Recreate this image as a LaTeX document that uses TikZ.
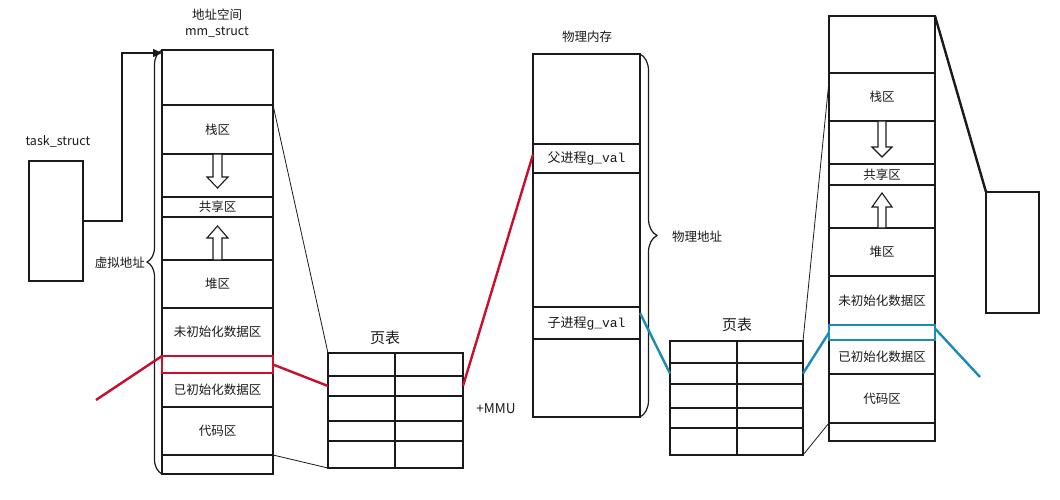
\documentclass[tikz,border=0pt]{standalone}
\usepackage{fontspec}
\setmainfont{Noto Sans CJK SC}
\newfontfamily\gmono{Liberation Mono}
\usetikzlibrary{decorations.pathreplacing,arrows.meta}
\definecolor{myred}{HTML}{C8102E}
\definecolor{myblue}{HTML}{1A8CB4}
\definecolor{ink}{HTML}{1A1A1A}
\begin{document}
\begin{tikzpicture}[x=1pt,y=-1pt,
  cell/.style={draw=ink,line width=1.2pt,inner sep=0pt,outer sep=0pt,text=ink,font=\fontsize{12.5pt}{14pt}\selectfont},
  lbl/.style={inner sep=0pt,text=ink,font=\fontsize{12.5pt}{14pt}\selectfont},
  big/.style={inner sep=0pt,text=ink,font=\fontsize{15pt}{17pt}\selectfont},
  thin/.style={draw=ink,line width=0.8pt},
  hollow/.style={draw=ink,line width=1.1pt,fill=white,line join=miter},
  redl/.style={draw=myred,line width=2.4pt},
  bluel/.style={draw=myblue,line width=2.4pt}]
\useasboundingbox (0,0) rectangle (1060,500);
\fill[white] (0,0) rectangle (1060,500);

% task_struct
\node[lbl] (tslbl) at (58,141) {task\_struct};
\node[cell,minimum width=54,minimum height=120] (ts) at (56,221) {};

% left column (virtual address space)
\node[lbl] (lt1) at (217,15) {地址空间};
\node[lbl] (lt2) at (217,32) {mm\_struct};
\node[cell,minimum width=111,minimum height=55] (l1) at (217.5,77.5) {};
\node[cell,minimum width=111,minimum height=49] (lstack) at (217.5,129.5) {栈区};
\node[cell,minimum width=111,minimum height=43] (lg1) at (217.5,175.5) {};
\node[cell,minimum width=111,minimum height=20] (lshare) at (217.5,207) {共享区};
\node[cell,minimum width=111,minimum height=43] (lg2) at (217.5,238.5) {};
\node[cell,minimum width=111,minimum height=48] (lheap) at (217.5,284) {堆区};
\node[cell,minimum width=111,minimum height=48] (lbss) at (217.5,332) {未初始化数据区};
\node[cell,minimum width=111,minimum height=17] (lred) at (217.5,364.5) {};
\node[cell,minimum width=111,minimum height=34] (ldata) at (217.5,390) {已初始化数据区};
\node[cell,minimum width=111,minimum height=48] (lcode) at (217.5,431) {代码区};
\node[cell,minimum width=111,minimum height=19] (llast) at (217.5,464.5) {};

% hollow arrows, left column
\draw[hollow] ([xshift=-4.5pt]lg1.north) -- ++(0,23) -- ++(-6,0) -- ++(10.5,11) -- ++(10.5,-11) -- ++(-6,0) -- ++(0,-23) -- cycle;
\draw[hollow] ([xshift=-4.5pt]lg2.south) -- ++(0,-22) -- ++(-6,0) -- ++(10.5,-12) -- ++(10.5,12) -- ++(-6,0) -- ++(0,22) -- cycle;

% brace left
\draw[draw=ink,line width=1.2pt,decorate,decoration={brace,amplitude=15pt}] (llast.south west) -- (l1.north west);
\node[lbl,anchor=east] (vlbl) at (145,263) {虚拟地址};

% task_struct -> mm_struct arrow
\draw[draw=ink,line width=1.2pt,-{Triangle[length=9pt,width=8pt]}] (ts.east) -- ++(39,0) |- ([yshift=-3pt]l1.north west);

% left page table
\node[big] (ptl) at (385,338) {页表};
\foreach \i/\t/\b in {1/353/376,2/376/396,3/396/421,4/421/441,5/441/468}{
  \node[cell,minimum width=67,minimum height={\b-\t}] (pla\i) at (361.5,{(\t+\b)/2}) {};
  \node[cell,minimum width=68,minimum height={\b-\t}] (plb\i) at (429,{(\t+\b)/2}) {};
}
\draw[draw=ink,line width=2pt] (pla1.north east) -- (pla5.south east);
\node[lbl,font=\fontsize{13.5pt}{16pt}\selectfont] (mmu) at (496,409) {+MMU};

% physical memory
\node[lbl] (pt) at (587,37) {物理内存};
\node[cell,minimum width=107,minimum height=90] (p1) at (586.5,99) {};
\node[cell,minimum width=107,minimum height=29,font=\fontsize{13pt}{15pt}\selectfont] (pparent) at (586.5,158.5) {父进程{\gmono g\_val}};
\node[cell,minimum width=107,minimum height=134] (p2) at (586.5,240) {};
\node[cell,minimum width=107,minimum height=32,font=\fontsize{13pt}{15pt}\selectfont] (pchild) at (586.5,323) {子进程{\gmono g\_val}};
\node[cell,minimum width=107,minimum height=78] (p3) at (586.5,378) {};
\draw[draw=ink,line width=1.2pt,decorate,decoration={brace,amplitude=17pt}] (p1.north east) -- (p3.south east);
\node[lbl,anchor=west] (plbl) at (672,237) {物理地址};

% right column
\node[cell,minimum width=106,minimum height=57] (r1) at (882,44.5) {};
\node[cell,minimum width=106,minimum height=48] (rstack) at (882,97) {栈区};
\node[cell,minimum width=106,minimum height=43] (rg1) at (882,142.5) {};
\node[cell,minimum width=106,minimum height=21] (rshare) at (882,174.5) {共享区};
\node[cell,minimum width=106,minimum height=43] (rg2) at (882,206.5) {};
\node[cell,minimum width=106,minimum height=48] (rheap) at (882,252) {堆区};
\node[cell,minimum width=106,minimum height=49] (rbss) at (882,300.5) {未初始化数据区};
\node[cell,minimum width=106,minimum height=15] (rblue) at (882,332.5) {};
\node[cell,minimum width=106,minimum height=34] (rdata) at (882,357) {已初始化数据区};
\node[cell,minimum width=106,minimum height=49] (rcode) at (882,398.5) {代码区};
\node[cell,minimum width=106,minimum height=18] (rlast) at (882,432) {};
\draw[hollow] ([xshift=-4pt]rg1.north) -- ++(0,26) -- ++(-6,0) -- ++(10,10) -- ++(10,-10) -- ++(-6,0) -- ++(0,-26) -- cycle;
\draw[hollow] ([xshift=-4pt]rg2.south) -- ++(0,-21) -- ++(-6,0) -- ++(10,-14) -- ++(10,14) -- ++(-6,0) -- ++(0,21) -- cycle;

% right page table
\node[big] (ptr) at (737,325) {页表};
\foreach \i/\t/\b in {1/341/363,2/363/384,3/384/408,4/408/428,5/428/455}{
  \node[cell,minimum width=67,minimum height={\b-\t}] (pra\i) at (703.5,{(\t+\b)/2}) {};
  \node[cell,minimum width=66,minimum height={\b-\t}] (prb\i) at (770,{(\t+\b)/2}) {};
}
\draw[draw=ink,line width=2pt] (pra1.north east) -- (pra5.south east);

% right small box
\node[cell,minimum width=53,minimum height=121] (rb) at (1012.5,252.5) {};

% highlighted rows
\draw[redl] (lred.north west) rectangle (lred.south east);
\draw[bluel] (rblue.north west) rectangle (rblue.south east);

% connectors
\draw[thin] (lstack.north east) -- (pla1.north west);
\draw[thin] (llast.north east) -- (pla5.south west);
\coordinate (redfree) at (96,400);
\draw[redl] (redfree) -- (lred.north west);
\draw[redl] (lred.east) -- (pla2.west);
\draw[redl] (plb2.east) -- ([yshift=4pt]pparent.west);
\draw[bluel] ([yshift=-6pt]pchild.north east) -- (pra2.west);
\draw[bluel] (prb2.east) -- (rblue.west);
\coordinate (bluefree) at (980,377);
\draw[bluel] ([yshift=4pt]rblue.east) -- (bluefree);
\draw[thin] ([yshift=-8pt]rstack.north west) -- (prb1.north east);
\draw[thin] (prb5.south east) -- (rlast.north west);
\draw[draw=ink,line width=2.4pt] (r1.north east) -- (rb.north west);
\end{tikzpicture}
\end{document}
